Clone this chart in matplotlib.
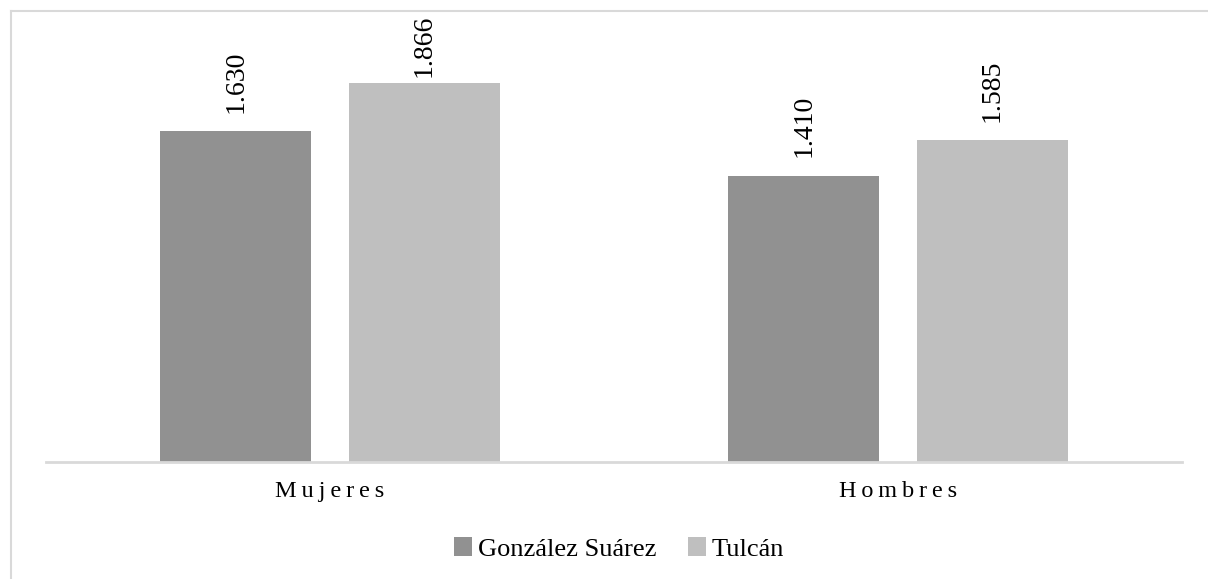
import matplotlib
matplotlib.use("Agg")
import matplotlib.pyplot as plt
from matplotlib.lines import Line2D
import numpy as np

categories = ["Mujeres", "Hombres"]
series_names = ["González Suárez", "Tulcán"]
gonzalez_suarez = [1.630, 1.410]
tulcan = [1.866, 1.585]

COLORS = ["#919191", "#bfbfbf"]
W, H = 1208, 579

plt.rcParams["font.family"] = ["Liberation Serif", "DejaVu Serif"]

fig = plt.figure(figsize=(W / 100, H / 100), dpi=100)
# chart border: only the left and top edges fall inside the image
bx, by = 10.5 / W, 1 - 10.5 / H
fig.add_artist(Line2D([bx, bx], [0, by], transform=fig.transFigure, color="#d9d9d9", lw=1.5))
fig.add_artist(Line2D([bx, 1], [by, by], transform=fig.transFigure, color="#d9d9d9", lw=1.5))

ax = fig.add_axes([46 / W, 1 - 462 / H, (1182 - 46) / W, (462 - 15) / H])
x = np.arange(len(categories))
width = 0.266
offset = 0.166

labels = []
for i, (vals, name) in enumerate(zip([gonzalez_suarez, tulcan], series_names)):
    pos = x + (offset if i else -offset)
    bars = ax.bar(pos, vals, width, color=COLORS[i], label=name)
    for b, v in zip(bars, vals):
        t = ax.text(b.get_x() + b.get_width() / 2, v + 0.09, f"{v:.3f}", rotation=90,
                    ha="center", va="bottom", fontsize=20)
        labels.append(t)

ax.set_xlim(-0.5, 1.5)
ax.set_ylim(0, 2.2)
ax.set_yticks([])
ax.set_xticks(x)
ax.set_xticklabels(["\u2009".join(c) for c in categories], fontsize=17.5)
ax.tick_params(axis="x", length=0, pad=14)
for s in ["top", "right", "left"]:
    ax.spines[s].set_visible(False)
ax.spines["bottom"].set_color("#d9d9d9")
ax.spines["bottom"].set_linewidth(2)

fig.legend(loc="center", bbox_to_anchor=(619 / W, 1 - 549 / H), ncol=2, frameon=False,
           fontsize=19, handlelength=0.7, handleheight=0.7, handletextpad=0.2, columnspacing=1.2)

# keep data labels inside the chart area (push down ones that would overflow the top)
fig.canvas.draw()
renderer = fig.canvas.get_renderer()
top_limit = H - 15
for t in labels:
    bb = t.get_window_extent(renderer)
    if bb.y1 > top_limit:
        dy = bb.y1 - top_limit
        x0, y0 = t.get_position()
        y_pix = ax.transData.transform((x0, y0))[1] - dy
        t.set_position((x0, ax.transData.inverted().transform((0, y_pix))[1]))

fig.savefig("out.png", dpi=100)
